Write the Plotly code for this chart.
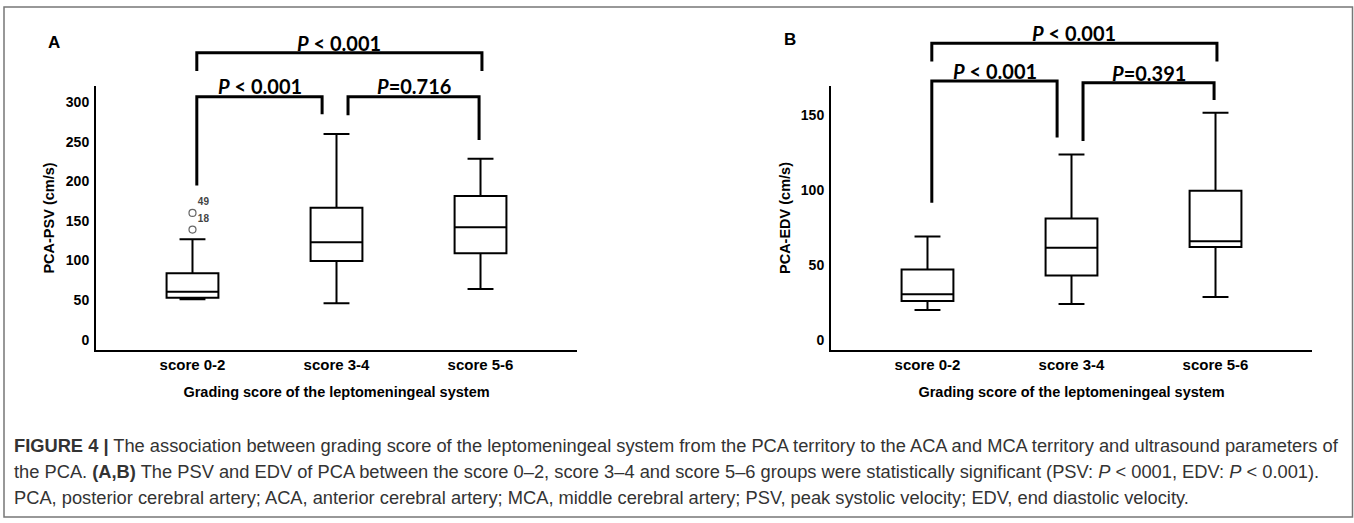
import plotly.graph_objects as go

# ---------------- data ----------------
categories = ["score 0-2", "score 3-4", "score 5-6"]

# Panel A: PCA-PSV (cm/s)
psv_lower = [51, 46, 64]
psv_q1 = [53, 99.4, 109]
psv_median = [60.6, 123, 142]
psv_q3 = [83.8, 166.7, 181.4]
psv_upper = [126.8, 259.7, 228.5]
psv_outlier_group = ["score 0-2", "score 0-2"]
psv_outlier_values = [160, 139]
psv_outlier_labels = ["49", "18"]
psv_ticks = [0, 50, 100, 150, 200, 250, 300]

# Panel B: PCA-EDV (cm/s)
edv_lower = [20, 24, 28.7]
edv_q1 = [26, 43, 62]
edv_median = [30.4, 61.5, 65.8]
edv_q3 = [47, 81, 99.5]
edv_upper = [69, 123.7, 151.5]
edv_ticks = [0, 50, 100, 150]

# significance brackets (values in data units of each panel)
psv_bracket_labels = ["P < 0.001", "P=0.716", "P < 0.001"]
psv_bracket_top = [306.8, 306.8, 362.4]
psv_bracket_left_end = [194.7, 283.3, 339.3]
psv_bracket_right_end = [284.6, 252.1, 339.3]
psv_label_value = [320.3, 320.3, 375.0]

edv_bracket_labels = ["P < 0.001", "P=0.391", "P < 0.001"]
edv_bracket_top = [172.7, 171.5, 197.8]
edv_bracket_left_end = [91.5, 132.7, 185.7]
edv_bracket_right_end = [134.9, 160.0, 185.7]
edv_label_value = [179.3, 178.2, 204.7]

# bracket horizontal spans (category index units)
bracket_x0 = [0.03, 1.08, 0.03]
bracket_x1 = [0.90, 1.99, 2.01]
label_x = [0.47, 1.54, 1.02]

caption_lines = [
    "<b>FIGURE 4 |</b> The association between grading score of the leptomeningeal system from the PCA territory to the ACA and MCA territory and ultrasound parameters of",
    "the PCA. <b>(A,B)</b> The PSV and EDV of PCA between the score 0–2, score 3–4 and score 5–6 groups were statistically significant (PSV: <i>P</i> &lt; 0001, EDV: <i>P</i> &lt; 0.001).",
    "PCA, posterior cerebral artery; ACA, anterior cerebral artery; MCA, middle cerebral artery; PSV, peak systolic velocity; EDV, end diastolic velocity.",
]

# ---------------- layout geometry ----------------
W, H = 1354, 523
Y_DOM = [1 - 350 / H, 1 - 86 / H]
XA_DOM = [96 / W, 577 / W]
XB_DOM = [831 / W, 1312 / W]
X_RANGE = [-0.67, 2.67]
PSV_RANGE = [-13.0, 320.3]
EDV_RANGE = [-6.7, 169.3]


def extended(rng):
    # range of an invisible companion axis sharing the same scale but reaching the top of the figure
    span = (rng[1] - rng[0]) * (1 - Y_DOM[0]) / (Y_DOM[1] - Y_DOM[0])
    return [rng[0], rng[0] + span]


AX_FONT = "Arial, Liberation Sans, sans-serif"
P_FONT = "Lato, Open Sans, sans-serif"

fig = go.Figure()

box_style = dict(
    width=0.36,
    whiskerwidth=0.5,
    line=dict(color="black", width=2),
    fillcolor="white",
    boxpoints=False,
    showlegend=False,
    hoverinfo="skip",
)

fig.add_trace(go.Box(x=categories, q1=psv_q1, median=psv_median, q3=psv_q3,
                     lowerfence=psv_lower, upperfence=psv_upper,
                     xaxis="x", yaxis="y", **box_style))
fig.add_trace(go.Box(x=categories, q1=edv_q1, median=edv_median, q3=edv_q3,
                     lowerfence=edv_lower, upperfence=edv_upper,
                     xaxis="x2", yaxis="y2", **box_style))

fig.add_trace(go.Scatter(
    x=psv_outlier_group, y=psv_outlier_values, mode="markers+text",
    text=psv_outlier_labels, textposition="top right",
    textfont=dict(family=AX_FONT, size=10, color="#444", weight="bold"),
    marker=dict(symbol="circle-open", size=7, color="#666", line=dict(width=1.2)),
    xaxis="x", yaxis="y", showlegend=False, hoverinfo="skip", cliponaxis=False,
))

# invisible companion traces so the extended axes exist
fig.add_trace(go.Scatter(x=[None], y=[None], xaxis="x", yaxis="y3", showlegend=False))
fig.add_trace(go.Scatter(x=[None], y=[None], xaxis="x2", yaxis="y4", showlegend=False))

shapes = []
annotations = []
for xref, yref, tops, lefts, rights, labels, lvals in [
    ("x", "y3", psv_bracket_top, psv_bracket_left_end, psv_bracket_right_end, psv_bracket_labels, psv_label_value),
    ("x2", "y4", edv_bracket_top, edv_bracket_left_end, edv_bracket_right_end, edv_bracket_labels, edv_label_value),
]:
    for i in range(len(tops)):
        x0, x1 = bracket_x0[i], bracket_x1[i]
        path = f"M {x0},{lefts[i]} L {x0},{tops[i]} L {x1},{tops[i]} L {x1},{rights[i]}"
        shapes.append(dict(type="path", path=path, xref=xref, yref=yref,
                           line=dict(color="black", width=3), layer="above"))
        txt = labels[i].replace("<", "&lt;").replace("P", "<i>P</i>", 1)
        annotations.append(dict(x=label_x[i], y=lvals[i], xref=xref, yref=yref,
                                text=f"<b>{txt}</b>", showarrow=False,
                                font=dict(family=P_FONT, size=20, color="black"),
                                xanchor="center", yanchor="middle"))

# panel letters
annotations.append(dict(x=54 / W, y=1 - 42.7 / H, xref="paper", yref="paper", text="<b>A</b>",
                        xanchor="center", yanchor="middle",
                        showarrow=False, font=dict(family=AX_FONT, size=17, color="black")))
annotations.append(dict(x=790 / W, y=1 - 40 / H, xref="paper", yref="paper", text="<b>B</b>",
                        xanchor="center", yanchor="middle",
                        showarrow=False, font=dict(family=AX_FONT, size=17, color="black")))

# caption
for i, line in enumerate(caption_lines):
    annotations.append(dict(x=12 / W, y=1 - (445 + 26 * i) / H, xref="paper", yref="paper",
                            text=line, showarrow=False, xanchor="left", yanchor="middle",
                            align="left", font=dict(family="Liberation Sans, Arial, sans-serif",
                                                    size=18.3, color="#333")))

# frame
shapes.append(dict(type="rect", xref="paper", yref="paper", x0=4 / W, x1=1352.5 / W,
                   y0=1 - 517 / H, y1=1 - 7 / H, line=dict(color="#777", width=1.5), layer="below"))

xaxis_style = dict(
    type="category", range=X_RANGE, showline=True, linecolor="black", linewidth=2,
    ticks="", showgrid=False, zeroline=False, ticklabelstandoff=0,
    tickfont=dict(family=AX_FONT, size=15, color="black", weight="bold"),
    title=dict(text="<b>Grading score of the leptomeningeal system</b>",
               font=dict(family=AX_FONT, size=14.5, color="black"), standoff=15),
    fixedrange=True,
)
yaxis_style = dict(
    showline=True, linecolor="black", linewidth=2, ticks="", showgrid=False,
    zeroline=False, ticklabelstandoff=2,
    tickfont=dict(family=AX_FONT, size=14, color="black", weight="bold"),
    tickformat="d", fixedrange=True,
)

fig.update_layout(
    width=W, height=H, margin=dict(l=0, r=0, t=0, b=0),
    paper_bgcolor="white", plot_bgcolor="rgba(0,0,0,0)", showlegend=False,
    xaxis=dict(domain=XA_DOM, anchor="y", **xaxis_style),
    xaxis2=dict(domain=XB_DOM, anchor="y2", **xaxis_style),
    yaxis=dict(domain=Y_DOM, anchor="x", range=PSV_RANGE, tickvals=psv_ticks,
               title=dict(text="<b>PCA-PSV (cm/s)</b>", font=dict(family=AX_FONT, size=14.5, color="black"),
                          standoff=8),
               **yaxis_style),
    yaxis2=dict(domain=Y_DOM, anchor="x2", range=EDV_RANGE, tickvals=edv_ticks,
                title=dict(text="<b>PCA-EDV (cm/s)</b>", font=dict(family=AX_FONT, size=14.5, color="black"),
                           standoff=7),
                **yaxis_style),
    yaxis3=dict(domain=[Y_DOM[0], 1], anchor="x", range=extended(PSV_RANGE), visible=False, fixedrange=True),
    yaxis4=dict(domain=[Y_DOM[0], 1], anchor="x2", range=extended(EDV_RANGE), visible=False, fixedrange=True),
    shapes=shapes,
    annotations=annotations,
)

fig.write_html("out.html", config={"displayModeBar": False},
               post_script="document.body.style.margin='0px';document.body.style.overflow='hidden';")
